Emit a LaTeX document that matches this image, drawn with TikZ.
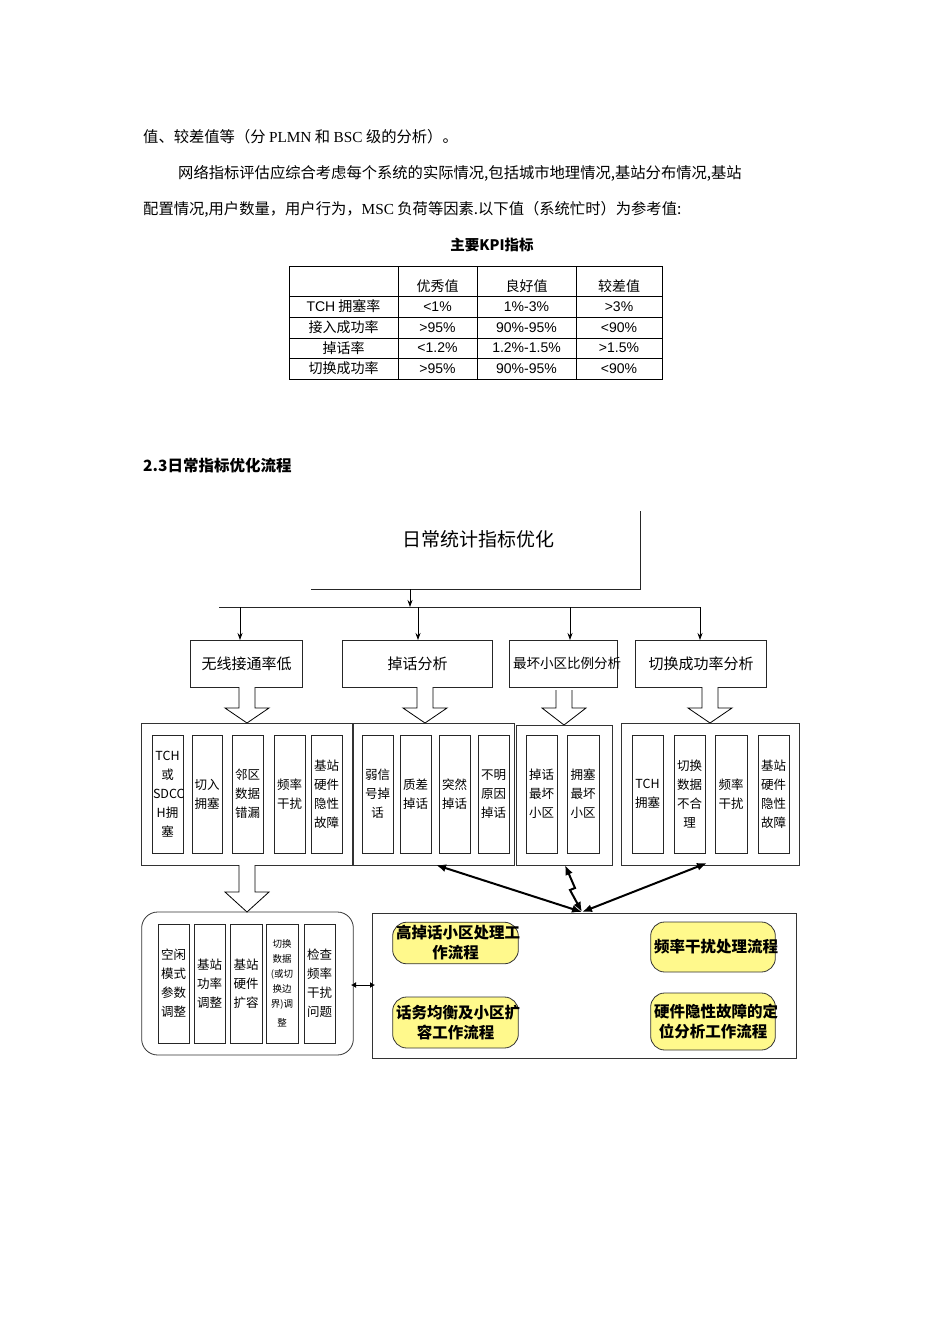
\documentclass[tikz,border=0pt]{standalone}
\usepackage{fontspec}
\setmainfont{Noto Sans CJK SC}
\newfontfamily\lat{Liberation Sans}
\newfontfamily\ser{Liberation Serif}
\usetikzlibrary{arrows.meta}
\tikzset{
  thin line/.style={draw=black!85, line width=0.8pt},
  lbl/.style={thin line, align=center, font=\fontsize{15}{18}\selectfont},
  inner/.style={draw=black!85, line width=1pt, align=center, font=\fontsize{12.5}{19}\selectfont, inner sep=0pt},
  grp/.style={draw=black!80, line width=0.8pt},
  yel/.style={draw=black!80, fill=yellow!45, line width=0.8pt, rounded corners=14pt, align=center, font=\fontsize{15.5}{20}\selectfont\bfseries},
  arr/.style={-{Stealth[length=7pt,width=5pt]}, line width=0.8pt},
  dbl/.style={{Latex[length=10pt,width=8pt]}-{Latex[length=10pt,width=8pt]}, line width=2pt},
}
\newcommand\bx[7][inner]{\node[#1, minimum width={(#5-#3)*1pt}, minimum height={(#6-#4)*1pt}, text width={(#5-#3-2)*1pt}] (#2) at ({(#3+#5)/2},{(#4+#6)/2}) {#7};}
\newcommand\hol[4]{\draw[line width=0.8pt, fill=white] ({#1-8},#2) -- ({#1-8},#3) -- ({#1-22},#3) -- (#1,#4) -- ({#1+22},#3) -- ({#1+8},#3) -- ({#1+8},#2);}
\begin{document}
\begin{tikzpicture}[x=1pt,y=-1pt]
\useasboundingbox[fill=white] (0,0) rectangle (950,1344);
% body text
\node[anchor=west, inner sep=0pt, font=\fontsize{15.3}{18}\selectfont] (t1) at (143,137) {值、较差值等（分 {\ser PLMN} 和 {\ser BSC} 级的分析）。};
\node[anchor=west, inner sep=0pt, font=\fontsize{15.3}{18}\selectfont] (t2) at (178,173) {网络指标评估应综合考虑每个系统的实际情况,包括城市地理情况,基站分布情况,基站};
\node[anchor=west, inner sep=0pt, font=\fontsize{15.3}{18}\selectfont] (t3) at (143,209) {配置情况,用户数量，用户行为，{\ser MSC} 负荷等因素.以下值（系统忙时）为参考值:};
\node[inner sep=0pt, font=\fontsize{14.5}{18}\selectfont\bfseries] (kt) at (492,245) {主要KPI指标};
% table
\draw[line width=0.7pt] (289,266) rectangle (662,379);
\foreach \x in {398,477,576} \draw[line width=0.7pt] (\x,266) -- (\x,379);
\foreach \y in {296,317,338,358} \draw[line width=0.7pt] (289,\y) -- (662,\y);
\begin{scope}[every node/.style={font=\fontsize{14}{16}\selectfont, inner sep=0pt}]
\node (h1) at (437.5,286) {优秀值}; \node (h2) at (526.5,286) {良好值}; \node (h3) at (619,286) {较差值};
\node (r1) at (343.5,306.5) {{\lat TCH} 拥塞率}; \node at (437.5,306.5) {\lat <1\%}; \node at (526.5,306.5) {\lat 1\%-3\%}; \node at (619,306.5) {\lat >3\%};
\node (r2) at (343.5,327.5) {接入成功率}; \node at (437.5,327.5) {\lat >95\%}; \node at (526.5,327.5) {\lat 90\%-95\%}; \node at (619,327.5) {\lat <90\%};
\node (r3) at (343.5,348) {掉话率}; \node at (437.5,348) {\lat <1.2\%}; \node at (526.5,348) {\lat 1.2\%-1.5\%}; \node at (619,348) {\lat >1.5\%};
\node (r4) at (343.5,368.5) {切换成功率}; \node at (437.5,368.5) {\lat >95\%}; \node at (526.5,368.5) {\lat 90\%-95\%}; \node at (619,368.5) {\lat <90\%};
\end{scope}
\node[anchor=west, inner sep=0pt, font=\fontsize{15.5}{18}\selectfont\bfseries] (sec) at (143,466) {2.3日常指标优化流程};
% diagram top
\node[font=\fontsize{19}{22}\selectfont, inner sep=0pt] (top) at (478,539) {日常统计指标优化};
\coordinate (tr) at (640,511);
\coordinate (tc) at (640,589);
\coordinate (tl) at (311,589);
\draw[thin line] (tr) -- (tc) -- (tl);
\coordinate (s1) at (410,589); \coordinate (s2) at (410,607);
\draw[arr] (s1) -- (s2);
\draw[thin line] (219,607) -- (700,607);
\bx[lbl]{b1}{193}{640}{300}{687}{无线接通率低}
\bx[lbl]{b2}{345}{640}{490}{687}{掉话分析}
\bx[lbl]{b3}{512}{640}{615}{687}{\fontsize{13.5}{16}\selectfont 最坏小区比例分析}
\bx[lbl]{b4}{638}{640}{764}{687}{切换成功率分析}
\draw[arr] (240,607) -- (240,640);
\draw[arr] (418,607) -- (418,640);
\draw[arr] (570,607) -- (570,640);
\draw[arr] (700,607) -- (700,640);
% hollow arrows
\hol{247}{687}{708}{723}
\hol{425}{687}{708}{723}
\hol{564}{690}{708}{725}
\hol{710}{687}{708}{723}
% groups
\bx[grp]{g1}{144}{723}{351}{865}{}
\bx[grp]{g2}{355}{723}{512}{865}{}
\bx[grp]{g3}{519}{725}{610}{865}{}
\bx[grp]{g4}{624}{723}{797}{865}{}
\bx{i11}{152}{735}{183}{853}{TCH\\或\\SDCC\\H拥\\塞}
\bx{i12}{192}{735}{222}{853}{切入\\拥塞}
\bx{i13}{232}{735}{263}{853}{邻区\\数据\\错漏}
\bx{i14}{274}{735}{305}{853}{频率\\干扰}
\bx{i15}{311}{735}{342}{853}{基站\\硬件\\隐性\\故障}
\bx{i21}{362}{735}{393}{853}{弱信\\号掉\\话}
\bx{i22}{400}{735}{431}{853}{质差\\掉话}
\bx{i23}{439}{735}{470}{853}{突然\\掉话}
\bx{i24}{478}{735}{509}{853}{不明\\原因\\掉话}
\bx{i31}{526}{735}{557}{853}{掉话\\最坏\\小区}
\bx{i32}{567}{735}{599}{853}{拥塞\\最坏\\小区}
\bx{i41}{632}{735}{663}{853}{TCH\\拥塞}
\bx{i42}{674}{735}{705}{853}{切换\\数据\\不合\\理}
\bx{i43}{715}{735}{747}{853}{频率\\干扰}
\bx{i44}{758}{735}{789}{853}{基站\\硬件\\隐性\\故障}
% lower
\hol{247}{865}{892}{912}
\bx[grp, rounded corners=16pt]{L}{144}{912}{351}{1055}{}
\bx{l1}{158}{924}{189}{1043}{空闲\\模式\\参数\\调整}
\bx{l2}{194}{924}{225}{1043}{基站\\功率\\调整}
\bx{l3}{230}{924}{262}{1043}{基站\\硬件\\扩容}
\bx{l4}{266}{924}{298}{1043}{\fontsize{9.5}{15}\selectfont 切换\\数据\\(或切\\换边\\界)调\\整}
\bx{l5}{304}{924}{335}{1043}{检查\\频率\\干扰\\问题}
\bx[grp]{R}{375}{913}{794}{1058}{}
\bx[yel]{y1}{395}{924}{516}{962}{高掉话小区处理工\\作流程}
\bx[yel]{y2}{395}{997}{516}{1048}{话务均衡及小区扩\\容工作流程}
\bx[yel]{y3}{653}{922}{773}{972}{频率干扰处理流程}
\bx[yel]{y4}{653}{993}{773}{1050}{硬件隐性故障的定\\位分析工作流程}
\coordinate (hub) at (582,912);
\coordinate (c2) at (436,865);
\coordinate (c3) at (565,865);
\coordinate (c4) at (707,863);
\coordinate (lm) at (351,985);
\coordinate (rm) at (375,985);
\draw[dbl] (c2) -- (hub);
\draw[dbl] (c4) -- (hub);
\draw[dbl] (c3) -- (575,888) -- (570,890) -- (hub);
\draw[{Latex[length=5pt,width=6pt]}-{Latex[length=5pt,width=6pt]}, line width=1pt] (lm) -- (rm);
\end{tikzpicture}
\end{document}
